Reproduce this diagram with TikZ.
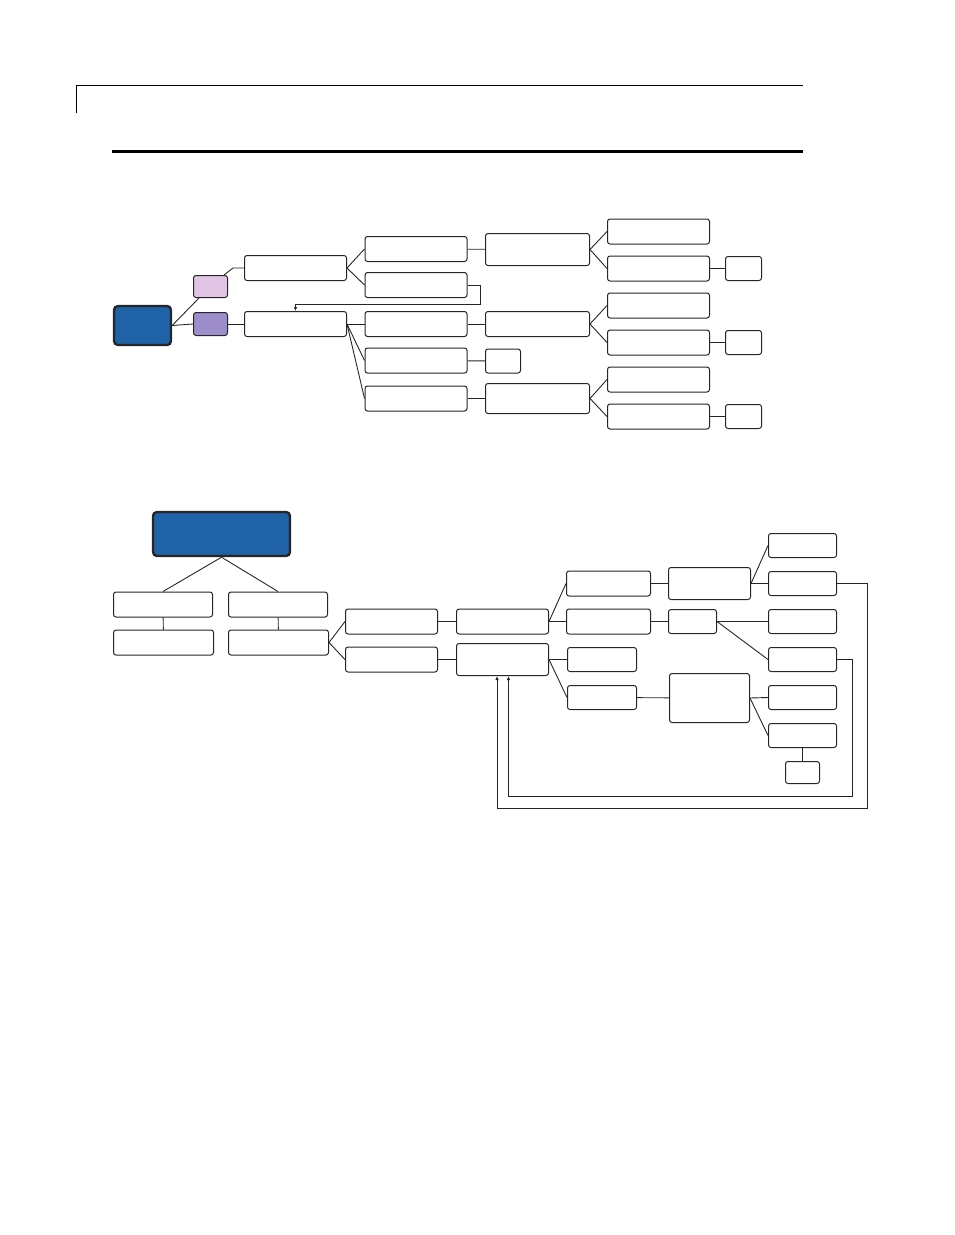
\documentclass[tikz,border=0pt]{standalone}
\usepackage{tikz}
\usetikzlibrary{arrows.meta}
\colorlet{bxl}{black!85}
\definecolor{rootblue}{HTML}{1F62A8}
\definecolor{pinkx}{HTML}{E2C4E5}
\definecolor{purx}{HTML}{9D8DCB}
\tikzset{
    box/.style={draw=bxl,fill=white,rounded corners=2.5pt,line width=1pt,inner sep=0pt},
    widebox/.style={box,minimum width=102pt,minimum height=25pt},
    midbox/.style={box,minimum width=68pt,minimum height=24pt},
    tinybox/.style={box,minimum width=36pt,minimum height=24pt},
    rootbox/.style={draw=black!85,fill=rootblue,rounded corners=4pt,line width=2.4pt,inner sep=0pt},
    wire/.style={bxl,line width=0.9pt},
    feedback/.style={wire,-{Latex[length=4pt,width=3.5pt]}}
}
\begin{document}
\begin{tikzpicture}[x=1pt,y=-1pt]
            \useasboundingbox (0,0) rectangle (954,1235);
            % page rules
            \draw [line width=0.9pt] (76,113) -- (76,85) -- (803,85);
            \draw [line width=3pt] (112,151) -- (803,151);

            % upper tree
            \node [rootbox,minimum width=57pt,minimum height=39pt] (root) at (142.5,325.5) {};
            \node [box,fill=pinkx,minimum width=34pt,minimum height=22pt] (pink) at (210.5,286.5) {};
            \node [box,fill=purx,minimum width=34pt,minimum height=23pt] (purple) at (210.5,324) {};
            \node [widebox] (a1) at (295.5,268) {};
            \node [widebox] (a2) at (295.5,324) {};
            \foreach \n/\y in {b1/249,b2/285,b3/324,b4/360.5,b5/398.5} {
                \node [widebox] (\n) at (416,\y) {};
            }
            \node [widebox,minimum width=104pt,minimum height=32pt] (c1) at (537.5,249.5) {};
            \node [widebox,minimum width=104pt] (c2) at (537.5,324) {};
            \node [tinybox,minimum width=35pt] (c3) at (503,361) {};
            \node [widebox,minimum width=104pt,minimum height=30pt] (c4) at (537.5,398.5) {};
            \foreach \n/\y in {d1/231.5,d2/268.5,d3/305.5,d4/342.5,d5/379.5,d6/416.5} {
                \node [widebox] (\n) at (658.5,\y) {};
            }
            \foreach \n/\y in {e1/268.5,e2/342.5,e3/416.5} {
                \node [tinybox] (\n) at (743.5,\y) {};
            }

            \draw [wire] (root.east) -- (purple.west);
            \draw [wire] (root.east) -- ([xshift=6pt]pink.south west);
            \draw [wire] ([xshift=-4pt]pink.north east) -- ([xshift=-11pt]a1.west) -- (a1.west);
            \draw [wire] (purple) -- (a2);
            \draw [wire] (a1.east) -- (b1.west);
            \draw [wire] (a1.east) -- (b2.west);
            \foreach \n in {b3,b4,b5} {
                \draw [wire] (a2.east) -- (\n.west);
            }
            \coordinate (loop) at (480,304);
            \draw [feedback] (b2.east) -| (loop) -| (a2.north);
            \draw [wire] (b1) -- (c1);
            \draw [wire] (b3) -- (c2);
            \draw [wire] (b4) -- (c3);
            \draw [wire] (b5) -- (c4);
            \foreach \p/\u/\v in {c1/d1/d2,c2/d3/d4,c4/d5/d6} {
                \draw [wire] (\p.east) -- (\u.west);
                \draw [wire] (\p.east) -- (\v.west);
            }
            \draw [wire] (d2) -- (e1);
            \draw [wire] (d4) -- (e2);
            \draw [wire] (d6) -- (e3);

            % lower tree
            \node [rootbox,minimum width=137pt,minimum height=44pt] (top) at (221.5,534) {};
            \node [widebox,minimum width=99pt] (f1) at (163,604.5) {};
            \node [widebox,minimum width=99pt] (f2) at (278,604.5) {};
            \node [widebox,minimum width=100pt] (g1) at (163.5,642.5) {};
            \node [widebox,minimum width=100pt] (g2) at (278.5,642.5) {};
            \node [widebox,minimum width=92pt] (h1) at (391.5,621.5) {};
            \node [widebox,minimum width=92pt] (h2) at (391.5,659.5) {};
            \node [widebox,minimum width=92pt] (i1) at (502.5,621.5) {};
            \node [widebox,minimum width=92pt,minimum height=32pt] (i2) at (502.5,659.5) {};
            \node [widebox,minimum width=84pt] (j1) at (608.5,583.5) {};
            \node [widebox,minimum width=84pt] (j2) at (608.5,621.5) {};
            \node [midbox,minimum width=69pt] (j3) at (602,659.5) {};
            \node [midbox,minimum width=69pt] (j4) at (602,697.5) {};
            \node [widebox,minimum width=82pt,minimum height=32pt] (k1) at (709.5,583.5) {};
            \node [box,minimum width=48pt,minimum height=24pt] (k2) at (692.5,621.5) {};
            \node [box,minimum width=80pt,minimum height=49pt] (k3) at (709.5,698) {};
            \foreach \n/\y in {l1/545.5,l2/583.5,l3/621.5,l4/659.5,l5/697.5,l6/735.5} {
                \node [midbox] (\n) at (802.5,\y) {};
            }
            \node [tinybox,minimum width=34pt,minimum height=22pt] (m1) at (802.5,772.5) {};

            \draw [wire] (top.south) -- (f1.north);
            \draw [wire] (top.south) -- (f2.north);
            \draw [wire] (f1) -- (g1);
            \draw [wire] (f2) -- (g2);
            \foreach \p/\u/\v in {g2/h1/h2,i1/j1/j2,i2/j3/j4,k1/l1/l2,k2/l3/l4,k3/l5/l6} {
                \draw [wire] (\p.east) -- (\u.west);
                \draw [wire] (\p.east) -- (\v.west);
            }
            \draw [wire] (h1) -- (i1);
            \draw [wire] (h2) -- (i2);
            \draw [wire] (j1) -- (k1);
            \draw [wire] (j2) -- (k2);
            \draw [wire] (j4) -- (k3);
            \draw [wire] (l6) -- (m1);
            \coordinate (outer) at (867,808);
            \coordinate (inner) at (852,796);
            \draw [feedback] (l2.east) -| (outer) -| ([xshift=-5.5pt]i2.south);
            \draw [feedback] (l4.east) -| (inner) -| ([xshift=6pt]i2.south);
\end{tikzpicture}
\end{document}
